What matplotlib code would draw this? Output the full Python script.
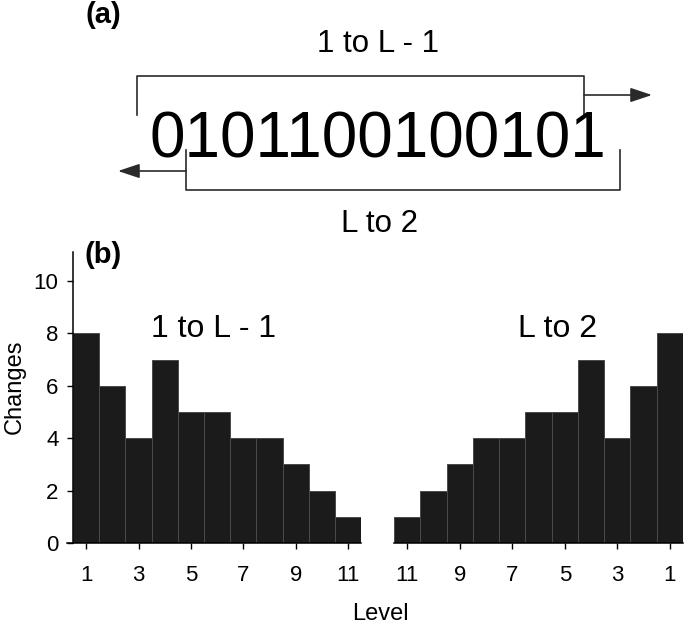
import matplotlib
matplotlib.use("Agg")
import matplotlib.pyplot as plt

plt.rcParams['font.family'] = ['Liberation Sans', 'DejaVu Sans']

# ---- data ----
levels = list(range(1, 12))
changes_fwd = [8, 6, 4, 7, 5, 5, 4, 4, 3, 2, 1]   # 1 to L - 1
changes_bwd = [8, 6, 4, 7, 5, 5, 4, 4, 3, 2, 1]   # L to 2
tick_levels = [1, 3, 5, 7, 9, 11]
y_ticks = [0, 2, 4, 6, 8, 10]
bit_string = "0101100100101"

W, H = 685, 624
fig = plt.figure(figsize=(W / 100, H / 100), dpi=100)

# ---- overlay for panel (a) diagram, pixel coordinates ----
ov = fig.add_axes([0, 0, 1, 1])
ov.set_xlim(0, W)
ov.set_ylim(H, 0)
ov.axis('off')
ov.patch.set_alpha(0)

lc = '#2a2a2a'
lw = 1.2
ov.text(103, 23, '(a)', fontsize=21, fontweight='bold', ha='center', va='baseline')
ov.text(378, 52, '1 to L - 1', fontsize=22.5, ha='center', va='baseline')
ov.text(378, 158, bit_string, fontsize=46, ha='center', va='baseline')
ov.text(380, 232, 'L to 2', fontsize=22.5, ha='center', va='baseline')
ov.text(103, 263, '(b)', fontsize=21, fontweight='bold', ha='center', va='baseline')

ov.plot([137, 137, 584, 584], [115, 76, 76, 115], color=lc, lw=lw)
ov.plot([186, 186, 620, 620], [150, 190, 190, 150], color=lc, lw=lw)
ov.annotate('', xy=(652, 95), xytext=(584, 95),
            arrowprops=dict(arrowstyle='-|>,head_length=0.6,head_width=0.2', color=lc, lw=lw,
                            mutation_scale=22, shrinkA=0, shrinkB=0))
ov.annotate('', xy=(118, 171), xytext=(186, 171),
            arrowprops=dict(arrowstyle='-|>,head_length=0.6,head_width=0.2', color=lc, lw=lw,
                            mutation_scale=22, shrinkA=0, shrinkB=0))

# ---- panel (b) ----
unit = 26.2
bottom = 81 / H
height = 11.1 * unit / H
axL = fig.add_axes([66.5 / W, bottom, 11.25 * unit / W, height])
axR = fig.add_axes([394 / W, bottom, 289 / W, height])

bar_color = '#1b1b1b'
edge_color = '#4a4a4a'

axL.bar(levels, changes_fwd, width=1.0, color=bar_color, edgecolor=edge_color, linewidth=0.7)
axR.bar(levels, changes_bwd, width=1.0, color=bar_color, edgecolor=edge_color, linewidth=0.7)

axL.set_xlim(0.25, 11.5)
axR.set_xlim(11.5, 0.5)
for ax in (axL, axR):
    ax.set_ylim(0, 11.1)
    ax.set_facecolor('none')
    ax.spines['top'].set_visible(False)
    ax.spines['right'].set_visible(False)
    ax.set_xticks(tick_levels)
    ax.set_xticklabels([str(t) for t in tick_levels])
    ax.tick_params(axis='x', length=4.5, width=1, pad=11, labelsize=16)
    ax.spines['bottom'].set_linewidth(1.1)

axL.spines['left'].set_position(('data', 0.5))
axL.spines['left'].set_linewidth(1.1)
axL.set_yticks(y_ticks)
axL.set_yticklabels([str(t) for t in y_ticks])
axL.tick_params(axis='y', length=4.5, width=1, pad=6, labelsize=16)

axR.spines['left'].set_visible(False)
axR.set_yticks([])

axL.set_ylabel('Changes', fontsize=17)
axL.yaxis.set_label_coords(-0.138, 0.536)

axL.text(5.88, 7.86, '1 to L - 1', fontsize=23, ha='center', va='baseline')
axR.text(5.26, 7.86, 'L to 2', fontsize=23, ha='center', va='baseline')

fig.text(380 / W, (H - 620) / H, 'Level', fontsize=17, ha='center', va='baseline')

fig.savefig('out.png', dpi=100)
